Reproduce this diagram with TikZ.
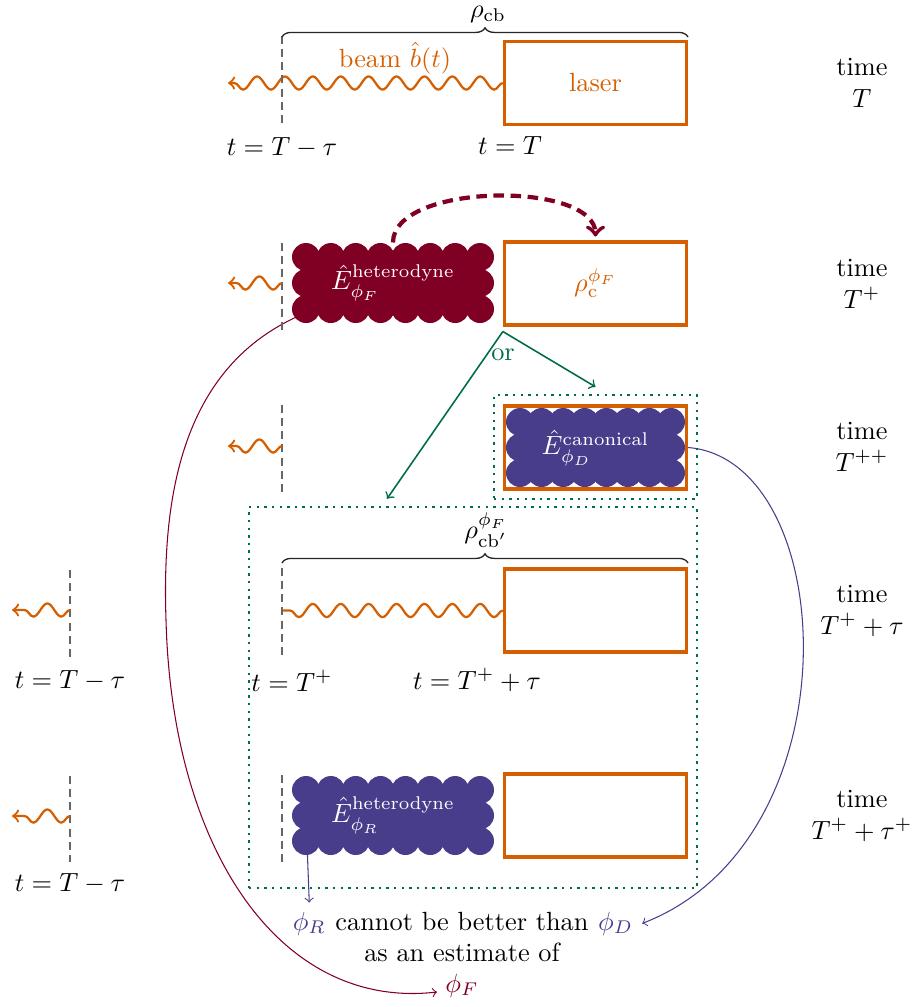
\documentclass[tikz,border=0pt]{standalone}
\usetikzlibrary{decorations.pathmorphing,decorations.pathreplacing,calc}
\definecolor{orng}{RGB}{213,94,0}
\definecolor{dred}{RGB}{128,0,36}
\definecolor{purp}{RGB}{72,61,139}
\definecolor{grn}{RGB}{0,109,68}
\pgfdeclarelayer{bg}
\pgfsetlayers{bg,main}
\newcommand{\scallop}[7]{%
  \fill[#7] (#1+14,#2+14) rectangle (#3-14,#4-14);
  \foreach \i in {0,...,#5}{\foreach \j in {0,...,#6}{%
    \fill[#7] ({#1+14+\i*(#3-#1-28)/#5},{#2+14+\j*(#4-#2-28)/#6}) circle[radius=14];}}}
\tikzset{
  statebox/.style={draw=orng, line width=1.2pt, minimum width=69.2pt, minimum height=31.5pt, inner sep=0pt, text=orng},
  cloudlbl/.style={text=white, inner sep=0pt, minimum width=76.8pt, minimum height=30.4pt},
  timelbl/.style={align=center, inner sep=1pt},
  wave/.style={draw=orng, line width=0.85pt, decorate, decoration={snake, amplitude=2.5pt, segment length=10.6pt, post length=1.5pt}},
  waveout/.style={wave, ->},
  tline/.style={draw=black!60, line width=0.5pt, dash pattern=on 3pt off 2pt},
  bracebr/.style={draw=black!85, line width=0.5pt, decorate, decoration={brace, amplitude=3.5pt}},
  grpbox/.style={draw=grn, line width=0.9pt, dotted, inner sep=0pt},
  choice/.style={draw=grn, line width=0.6pt, ->},
  purarrow/.style={draw=purp, line width=0.4pt, ->},
  redarrow/.style={draw=dred, line width=0.4pt, ->},
  measarrow/.style={draw=dred, line width=1.6pt, dash pattern=on 4pt off 2.5pt, ->, shorten >=1.5pt},
}
\begin{document}
\begin{tikzpicture}[x=0.38pt,y=-0.38pt]
\useasboundingbox (0,0) rectangle (914,1007);

% ---------- row 1: time T
\node[statebox] (laser) at (595.5,83) {laser};
\coordinate (w1) at (228,83);
\draw[waveout] (laser.west) -- (w1);
\node[text=orng] (beam) at (395,58) {beam $\hat{b}(t)$};
\draw[tline] (282,36) -- (282,123);
\draw[bracebr] (282,37) -- (688,37);
\node (rhocb) at (488,14) {$\rho_{\mathrm{cb}}$};
\node (tA) at (282,148) {$t=T-\tau$};
\node (tB) at (510,145) {$t=T$};
\node[timelbl] (time1) at (862,83) {time\\$T$};

% ---------- row 2: time T+
\node[statebox] (boxF) at (595.5,283.5) {$\rho_{\mathrm{c}}^{\phi_F}$};
\scallop{292}{243}{494}{323}{7}{2}{dred}
\node[cloudlbl] (cloudF) at (393,283) {$\hat{E}^{\mathrm{heterodyne}}_{\phi_F}$};
\draw[tline] (282,243) -- (282,330);
\coordinate (s2) at (282,283);
\coordinate (w2) at (228,283);
\draw[waveout] (s2) -- (w2);
\draw[measarrow] (cloudF.north) .. controls +(0,-60) and +(0,-60) .. (boxF.north);
\node[timelbl] (time2) at (862,284) {time\\$T^+$};

% ---------- row 3: time T++
\node[grpbox, minimum width=77.1pt, minimum height=39.5pt] (grpD) at (595.5,447) {};
\scallop{506}{408}{685}{487}{7}{2}{purp}
\node[statebox] (boxD) at (595.5,447.5) {};
\node[cloudlbl, minimum width=68pt] (cloudD) at (595.5,448) {$\hat{E}^{\mathrm{canonical}}_{\phi_D}$};
\draw[tline] (282,405) -- (282,495);
\coordinate (s3) at (282,446);
\coordinate (w3) at (228,446);
\draw[waveout] (s3) -- (w3);
\node[timelbl] (time3) at (862,447) {time\\$T^{++}$};

% ---------- row 4: time T+ + tau
\node[grpbox, minimum width=170.2pt, minimum height=144.8pt] (grpB) at (473,697.5) {};
\node[statebox] (boxP) at (595.5,610.5) {};
\coordinate (s4) at (282,610.5);
\draw[wave] (boxP.west) -- (s4);
\draw[tline] (282,568) -- (282,657);
\draw[bracebr] (282,563) -- (688,563);
\node (rhocbp) at (486,530) {$\rho^{\phi_F}_{\mathrm{cb}'}$};
\node (tC) at (292,681) {$t=T^+$};
\node (tD) at (477,680) {$t=T^+ + \tau$};
\draw[tline] (70,570) -- (70,657);
\coordinate (s4l) at (70,610);
\coordinate (w4l) at (12,610);
\draw[waveout] (s4l) -- (w4l);
\node (tE) at (70,681) {$t=T-\tau$};
\node[timelbl] (time4) at (862,611) {time\\$T^+ + \tau$};

% ---------- row 5: time T+ + tau+
\node[statebox] (boxR) at (595.5,815.5) {};
\scallop{292}{776}{494}{855}{7}{2}{purp}
\node[cloudlbl] (cloudR) at (393,815.5) {$\hat{E}^{\mathrm{heterodyne}}_{\phi_R}$};
\draw[tline] (282,775) -- (282,862);
\draw[tline] (70,776) -- (70,862);
\coordinate (s5l) at (70,816);
\coordinate (w5l) at (12,816);
\draw[waveout] (s5l) -- (w5l);
\node (tF) at (70,884) {$t=T-\tau$};
\node[timelbl] (time5) at (862,816) {time\\$T^+ + \tau^+$};

% ---------- conclusion text
\node[anchor=base, inner sep=0pt] (cannot) at (462,930) {cannot be better than};
\node[anchor=base east, inner sep=3.3pt, text=purp] (phiR) at (cannot.base west) {$\phi_R$};
\node[anchor=base west, inner sep=3.3pt, text=purp] (phiD) at (cannot.base east) {$\phi_D$};
\node[anchor=base] (estim) at (462,961) {as an estimate of};
\node[anchor=base, inner sep=3pt, text=dred] (phiF) at (462,992) {$\phi_F$};

% ---------- choice arrows
\coordinate (orsrc) at ($(boxF.south west)+(0,5)$);
\draw[choice] (orsrc) -- ($(grpD.north)+(0,-7)$);
\draw[choice] (orsrc) -- ($(grpB.north)+(-86,-7)$);
\node[text=grn] (orlbl) at (503,355) {or};

% ---------- long connectors (behind)
\begin{pgfonlayer}{bg}
\draw[purarrow] ($(cloudR.south west)+(16,-2)$) -- (phiR.north);
\draw[purarrow] (boxD.east) .. controls (840,460) and (858,840) .. (phiD.east);
\draw[redarrow] ($(cloudF.south west)+(6,-7)$) .. controls (180,370) and (162,500) .. (166,620) .. controls (172,850) and (280,1010) .. (phiF.base west);
\end{pgfonlayer}
\end{tikzpicture}
\end{document}
